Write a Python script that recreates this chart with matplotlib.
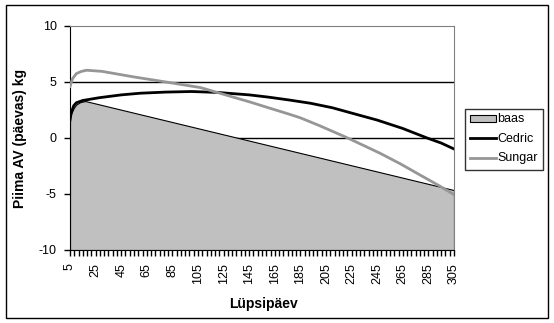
import numpy as np
import matplotlib

matplotlib.use("Agg")
import matplotlib.pyplot as plt
from matplotlib.patches import Rectangle
from matplotlib.ticker import FixedLocator

plt.rcParams["font.family"] = ["Liberation Sans", "DejaVu Sans"]
plt.rcParams["axes.unicode_minus"] = False

# values (day -> kg)
baas_days = [5, 6, 8, 10, 13, 17, 305]
baas_vals = [1.8, 2.2, 2.7, 3.0, 3.2, 3.3, -4.65]

cedric_days = [5, 6, 8, 10, 15, 28, 45, 60, 80, 100, 120, 145, 160, 177, 193,
               210, 229, 245, 265, 284, 295, 305]
cedric_vals = [1.6, 2.3, 2.9, 3.15, 3.35, 3.6, 3.85, 4.0, 4.1, 4.15, 4.07, 3.85,
               3.65, 3.38, 3.1, 2.7, 2.1, 1.6, 0.85, 0.0, -0.45, -0.98]

sungar_days = [5, 7, 10, 14, 18, 30, 55, 80, 107, 125, 146, 160, 177, 185, 200,
               222, 247, 263, 280, 294, 305]
sungar_vals = [4.6, 5.3, 5.75, 5.95, 6.05, 5.95, 5.45, 5.0, 4.5, 3.9, 3.2, 2.7,
               2.1, 1.8, 1.1, 0.0, -1.35, -2.3, -3.4, -4.3, -5.05]

x_labels = list(range(5, 306, 20))
y_ticks = [-10, -5, 0, 5, 10]

W, H = 554, 323
fig = plt.figure(figsize=(W / 100, H / 100), dpi=100)
ax = fig.add_axes([70 / W, (H - 250) / H, 384 / W, 224 / H])

# outer chart frame
fig.patches.append(Rectangle((6 / W, 5 / H), 542 / W, 313 / H, transform=fig.transFigure,
                             fill=False, edgecolor="black", linewidth=1.0))

for y in [-5, 0, 5]:
    ax.axhline(y, color="black", linewidth=1.0, zorder=0)

ax.fill_between(baas_days, baas_vals, -10, facecolor="#c0c0c0", edgecolor="black",
                linewidth=0.8, label="baas", zorder=1)
ax.plot(cedric_days, cedric_vals, color="black", linewidth=2, label="Cedric", zorder=2)
ax.plot(sungar_days, sungar_vals, color="#969696", linewidth=2, label="Sungar", zorder=3)

ax.set_xlim(5, 305)
ax.set_ylim(-10, 10)
ax.set_yticks(y_ticks)
ax.set_xticks(x_labels)
ax.set_xticklabels([str(v) for v in x_labels], rotation=90)
ax.xaxis.set_minor_locator(FixedLocator(np.arange(5, 305.01, 20 / 6)))
ax.tick_params(axis="both", labelsize=9, direction="out", length=4, width=1, pad=5.5)
ax.tick_params(axis="x", which="minor", length=4, width=1)

for side in ["top", "right"]:
    ax.spines[side].set_color("#808080")
for side in ["left", "bottom"]:
    ax.spines[side].set_color("black")

ax.set_xlabel("Lüpsipäev", fontsize=10, fontweight="bold")
ax.set_ylabel("Piima AV (päevas) kg", fontsize=10, fontweight="bold")
ax.xaxis.set_label_coords(0.503, -0.21)
ax.yaxis.set_label_coords(-0.112, 0.5)

leg = ax.legend(loc="center left", bbox_to_anchor=(465 / W, 1 - 139 / H),
                bbox_transform=fig.transFigure, fontsize=9, frameon=True,
                fancybox=False, edgecolor="black", borderpad=0.4, handlelength=2.1,
                handleheight=0.5, handletextpad=0.1, labelspacing=0.6,
                borderaxespad=0)
leg.get_frame().set_linewidth(1.0)

fig.savefig("out.png", dpi=100)
